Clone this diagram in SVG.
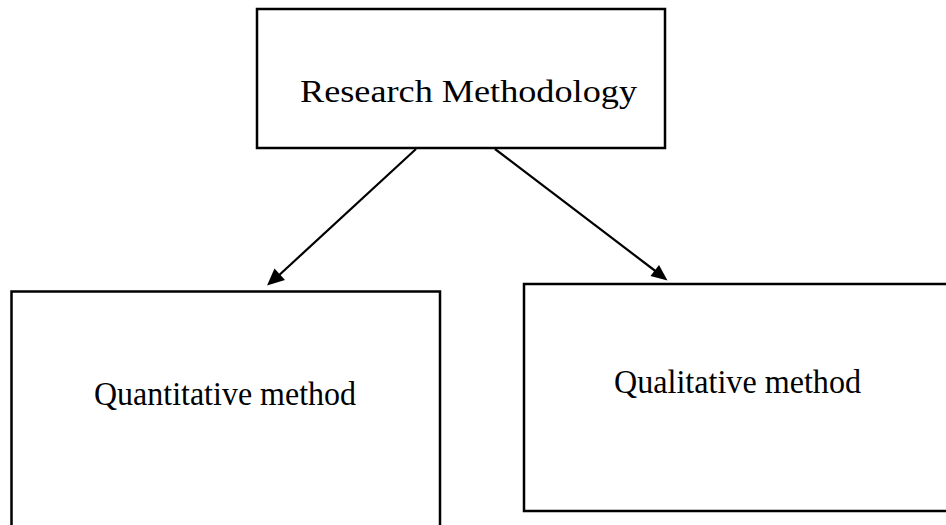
<svg xmlns="http://www.w3.org/2000/svg" width="946" height="525" viewBox="0 0 946 525">
<style>
.box{fill:#fff;stroke:#000;stroke-width:2.5}
.lbl{font-family:"Liberation Serif","Times New Roman",serif;fill:#000}
.conn{stroke:#000;stroke-width:2.2;fill:none}
.head{fill:#000}
</style>
<rect width="946" height="525" fill="#fff"/>
<g id="connectors">
<line class="conn" x1="416" y1="149" x2="276" y2="278"/>
<path class="head" d="M267,285.5 L274.5,268.5 L285,280 z"/>
<line class="conn" x1="495" y1="149" x2="658" y2="273"/>
<path class="head" d="M667.5,280.5 L650.5,276 L659,265 z"/>
</g>
<g id="node-research">
<rect class="box" x="257" y="9" width="408" height="139"/>
<text class="lbl" x="468.5" y="102" font-size="31" text-anchor="middle" textLength="337" lengthAdjust="spacingAndGlyphs">Research Methodology</text>
</g>
<g id="node-quantitative">
<rect class="box" x="11.5" y="291.5" width="428.5" height="240"/>
<text class="lbl" x="225" y="405" font-size="34" text-anchor="middle" textLength="262" lengthAdjust="spacingAndGlyphs">Quantitative method</text>
</g>
<g id="node-qualitative">
<rect class="box" x="524" y="284" width="430" height="227"/>
<text class="lbl" x="737.5" y="393" font-size="34" text-anchor="middle" textLength="247" lengthAdjust="spacingAndGlyphs">Qualitative method</text>
</g>
</svg>
